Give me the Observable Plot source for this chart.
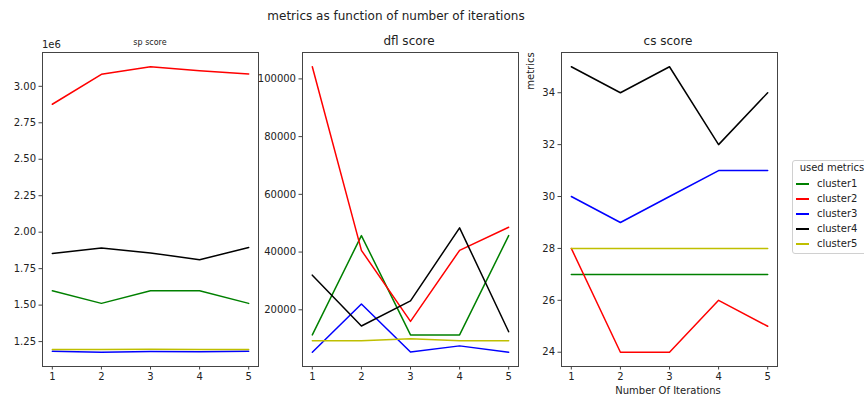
<!DOCTYPE html>
<html><head><meta charset="utf-8">
<script src="https://cdn.jsdelivr.net/npm/d3@7"></script>
<script src="https://cdn.jsdelivr.net/npm/@observablehq/plot@0.6"></script>
<style>
body{margin:0;background:#fff;overflow:hidden;font-family:"DejaVu Sans",sans-serif;color:#222}
#wrap{position:relative;width:864px;height:396px;overflow:hidden;background:#fff}
.t{position:absolute;white-space:nowrap;transform:translate(-50%,-50%);line-height:1}
#legend{position:absolute;left:792px;top:160px;width:78px;height:92px;border:1px solid #d0d0d0;border-radius:3px;background:#fff;font-size:10px;color:#222}
.row{position:absolute;left:3px;height:15px;display:flex;align-items:center}
.sw{width:13px;height:2px;margin-right:8px;flex:none}
</style></head><body><div id="wrap"></div>
<script>
const iterations = [1, 2, 3, 4, 5];
const clusters = ["cluster1", "cluster2", "cluster3", "cluster4", "cluster5"];
const clusterColors = ["#008000", "#ff0000", "#0000ff", "#000000", "#bfbf00"];

// sp score (raw values, axis shown in units of 1e6)
const spScore = [
  [1598000, 1512000, 1598000, 1598000, 1512000],
  [2877000, 3082000, 3134000, 3106000, 3084000],
  [1184000, 1177000, 1182000, 1180000, 1183000],
  [1854000, 1891000, 1858000, 1811000, 1895000],
  [1196000, 1196000, 1197000, 1196000, 1196000]
];
const dflScore = [
  [11300, 45700, 11300, 11300, 45700],
  [104200, 40600, 16000, 40600, 48600],
  [5300, 22000, 5400, 7500, 5300],
  [32000, 14400, 23100, 48400, 12400],
  [9300, 9300, 10000, 9300, 9300]
];
const csScore = [
  [27, 27, 27, 27, 27],
  [28, 24, 24, 26, 25],
  [30, 29, 30, 31, 31],
  [35, 34, 35, 32, 34],
  [28, 28, 28, 28, 28]
];
const spTicks = [1250000, 1500000, 1750000, 2000000, 2250000, 2500000, 2750000, 3000000];
const dflTicks = [20000, 40000, 60000, 80000, 100000];
const csTicks = [24, 26, 28, 30, 32, 34];

const wrap = document.getElementById("wrap");

function panel(values, ticks, fmt, frameLeft) {
  const data = [];
  clusters.forEach((c, i) => values[i].forEach((v, j) => data.push({it: iterations[j], v, c})));
  const [lo, hi] = d3.extent(data, d => d.v);
  const pad = (hi - lo) * 0.05;
  const p = Plot.plot({
    width: 266, height: 366, marginLeft: 45, marginRight: 5, marginTop: 22, marginBottom: 30,
    style: {background: "transparent", overflow: "visible", fontFamily: "DejaVu Sans", fontSize: "10px", color: "#222"},
    x: {domain: [0.8, 5.2]},
    y: {domain: [lo - pad, hi + pad]},
    color: {domain: clusters, range: clusterColors},
    marks: [
      Plot.line(data, {x: "it", y: "v", stroke: "c", z: "c", strokeWidth: 1.5}),
      Plot.frame({stroke: "#444"}),
      Plot.axisX({ticks: iterations, tickSize: 3.5, tickPadding: 3, tickFormat: d => String(d), label: null, stroke: "#444"}),
      Plot.axisY({ticks, tickSize: 3.5, tickPadding: 3, tickFormat: fmt, label: null, stroke: "#444"})
    ]
  });
  p.style.position = "absolute";
  p.style.left = (frameLeft - 45) + "px";
  p.style.top = "30px";
  p.style.background = "transparent";
  wrap.appendChild(p);
}

panel(spScore, spTicks, d => (d / 1e6).toFixed(2), 42);
panel(dflScore, dflTicks, d => String(d), 302);
panel(csScore, csTicks, d => String(d), 561);

function text(s, x, y, size, rotate) {
  const el = document.createElement("div");
  el.className = "t";
  el.textContent = s;
  el.style.left = x + "px";
  el.style.top = y + "px";
  el.style.fontSize = size + "px";
  if (rotate) el.style.transform = "translate(-50%,-50%) rotate(-90deg)";
  wrap.appendChild(el);
  return el;
}
text("metrics as function of number of iterations", 396, 16, 12);
const e6 = text("1e6", 42, 45, 10); e6.style.transform = "translate(0,-50%)";
text("sp score", 150, 43, 8);
text("dfl score", 409, 41, 12);
text("cs score", 668, 41, 12);
text("metrics", 531, 71, 10, true);
text("Number Of Iterations", 668, 391, 10);

const lg = document.createElement("div");
lg.id = "legend";
const title = document.createElement("div");
title.textContent = "used metrics";
title.style.cssText = "position:absolute;left:0;right:0;top:1px;text-align:center";
lg.appendChild(title);
clusters.forEach((c, i) => {
  const r = document.createElement("div");
  r.className = "row";
  r.style.top = (15 + i * 15) + "px";
  const sw = document.createElement("div");
  sw.className = "sw";
  sw.style.backgroundColor = clusterColors[i];
  r.appendChild(sw);
  const tx = document.createElement("span");
  tx.textContent = c;
  r.appendChild(tx);
  lg.appendChild(r);
});
wrap.appendChild(lg);
</script></body></html>
